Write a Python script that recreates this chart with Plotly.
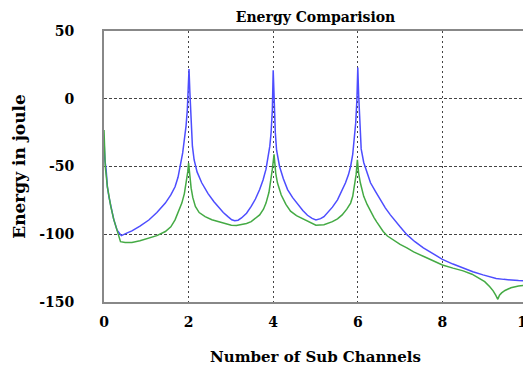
import plotly.graph_objects as go

# Blue series
blue_x = [0.0, 0.02, 0.05, 0.08, 0.12, 0.16, 0.23, 0.31, 0.41, 0.55, 0.66, 0.85, 1.06, 1.25, 1.45, 1.58,
          1.68, 1.75, 1.8, 1.86, 1.9, 1.94, 1.97, 1.99,
          2.01, 2.03, 2.06, 2.09, 2.13, 2.2, 2.31, 2.46, 2.6, 2.7, 2.82, 2.93, 3.02, 3.09, 3.17, 3.25,
          3.37, 3.48, 3.58, 3.68, 3.76, 3.83, 3.88, 3.92, 3.95, 3.98,
          4.0, 4.02, 4.05, 4.08, 4.15, 4.24, 4.34, 4.46, 4.58, 4.7, 4.81, 4.92, 5.01, 5.12, 5.2, 5.28,
          5.4, 5.52, 5.62, 5.71, 5.78, 5.83, 5.88, 5.92, 5.95, 5.98,
          6.0, 6.02, 6.05, 6.08, 6.14, 6.22, 6.3, 6.42, 6.53, 6.65, 6.77, 6.88, 7.0, 7.16, 7.35, 7.55,
          7.75, 8.0, 8.25, 8.49, 8.72, 8.96, 9.12, 9.27, 9.45, 9.6, 9.8, 10.0]
blue_y = [-30, -45, -52, -65, -73, -79.5, -89, -97, -101, -99, -97.5, -94, -89.5, -84, -77, -71,
          -65, -58, -50, -40, -30, -20, -8, 8,
          22, 5, -20, -35, -45, -54, -62, -70, -76, -79.5, -84, -87, -89.3, -90, -89.6, -88,
          -84.5, -79.5, -74, -67, -60, -52, -44, -35, -25, -8,
          21, 0, -25, -38, -50, -59, -67, -73, -78, -82.5, -86, -88.3, -89.4, -88.5, -87, -84.5,
          -80, -74.6, -68.5, -62, -56, -50, -41, -30, -18, 0,
          23, 3, -25, -37, -47, -55, -62, -68.5, -74.6, -80.5, -85.7, -90.3, -94.5, -100.3, -105.5, -110,
          -114, -118.5, -122, -125, -127.7, -130, -131.5, -132.6, -133.3, -133.8, -134.2, -134.4]

# Green series
green_x = [0.0, 0.02, 0.03, 0.08, 0.12, 0.16, 0.23, 0.31, 0.39, 0.5, 0.66, 0.85, 1.06, 1.25, 1.45, 1.58,
           1.68, 1.77, 1.84, 1.9, 1.94, 1.98,
           2.0, 2.03, 2.06, 2.1, 2.16, 2.25, 2.39, 2.55, 2.7, 2.85, 3.01, 3.13, 3.25, 3.37, 3.48, 3.58,
           3.68, 3.77, 3.83, 3.9, 3.94, 3.98,
           4.02, 4.06, 4.1, 4.19, 4.3, 4.41, 4.55, 4.72, 4.87, 5.01, 5.2, 5.4, 5.52, 5.63, 5.74, 5.83,
           5.88, 5.92, 5.96,
           5.99, 6.02, 6.06, 6.14, 6.22, 6.3, 6.38, 6.45, 6.52, 6.6, 6.7, 6.8, 6.9, 7.0, 7.16, 7.32, 7.6,
           8.0, 8.25, 8.49, 8.7, 8.88, 9.0, 9.12, 9.2, 9.26, 9.31, 9.35, 9.4, 9.48, 9.62, 9.8, 10.0]
green_y = [-23, -47, -50, -65, -73, -79.5, -89, -97, -105.5, -106, -106, -104.8, -103, -101, -98, -94.5,
           -89.4, -83, -77, -70, -63, -54,
           -47.5, -58, -66, -73, -79.5, -84, -87, -89.3, -90.7, -92.3, -93.3, -93.5, -93, -92, -90.7, -88.5,
           -85.7, -81.5, -77, -69, -62, -52,
           -41, -55, -62, -71, -78, -83, -86.3, -89, -91.5, -93.3, -93, -90.7, -88.6, -85.7, -81.5, -77,
           -72, -65, -56,
           -45, -55, -62, -72, -78, -83, -87.5, -91, -94.5, -98, -101.3, -103.5, -105.5, -107.5, -110, -113, -117,
           -122.7, -125, -127, -129.5, -132.6, -135, -138.8, -141.8, -145, -148, -145, -143.3, -141.5, -139.5, -138.2, -137.5]

x_ticks = [0, 2, 4, 6, 8, 10]
y_ticks = [-150, -100, -50, 0, 50]

font_family = "DejaVu Serif"

fig = go.Figure()
fig.add_trace(go.Scatter(x=blue_x, y=blue_y, mode="lines",
                         line=dict(color="#4d4dff", width=1.5), showlegend=False))
fig.add_trace(go.Scatter(x=green_x, y=green_y, mode="lines",
                         line=dict(color="#44aa44", width=1.5), showlegend=False))

# The page body has an 8px default margin, so the figure is sized to fill the rest of the window.
fig.update_layout(
    width=523, height=362,
    margin=dict(l=96, r=4, t=23, b=68),
    paper_bgcolor="white", plot_bgcolor="white",
    font=dict(family=font_family, color="black"),
    title=dict(text="<b>Energy Comparision</b>", x=0.5, xref="paper",
               y=1 - 9 / 362, yref="container", yanchor="middle", xanchor="center",
               font=dict(size=14, family=font_family, color="black")),
)

fig.update_xaxes(
    range=[0, 10], tickvals=x_ticks, ticktext=[f"<b>{t}</b>" for t in x_ticks],
    tickfont=dict(size=14, family=font_family), ticklabelstandoff=6,
    ticklabeloverflow="allow", automargin=False,
    showgrid=True, gridcolor="#444", gridwidth=1.3, griddash="2px,3px",
    showline=True, linecolor="#888", linewidth=2, mirror=True,
    zeroline=False, ticks="",
    title=dict(text="<b>Number of Sub Channels</b>", font=dict(size=15, family=font_family),
               standoff=23),
)
fig.update_yaxes(
    range=[-150, 50], tickvals=y_ticks, ticktext=[f"<b>{t}</b>" for t in y_ticks],
    tickfont=dict(size=14, family=font_family), ticklabelstandoff=25, automargin=False,
    showgrid=True, gridcolor="#444", gridwidth=1.3, griddash="3px,2px",
    showline=True, linecolor="#888", linewidth=2, mirror=True,
    zeroline=False, ticks="",
    title=dict(text="<b>Energy in joule</b>", font=dict(size=17, family=font_family),
               standoff=9),
)

fig.write_html("out.html")
